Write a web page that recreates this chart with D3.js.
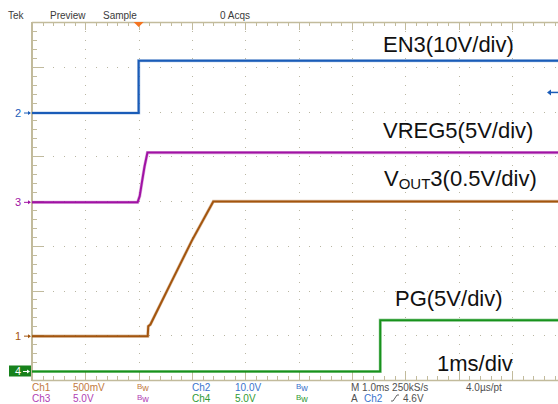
<!DOCTYPE html>
<html>
<head>
<meta charset="utf-8">
<script src="https://cdn.jsdelivr.net/npm/d3@7"></script>
<style>
  html, body { margin: 0; padding: 0; background: #fff; }
  svg { display: block; font-family: "Liberation Sans", Arial, sans-serif; }
</style>
</head>
<body>
<svg id="scope" width="558" height="404"></svg>
<script>
// Time base: 1 ms/div, 10 divisions, trigger 2 divisions from the left edge
const timeDomain = [-2, 8];          // ms
const divDomain = [-4, 4];           // vertical divisions

// Channel setup: volts per division and ground-reference offset (divisions)
const channels = [
  { id: 1, name: "VOUT3", vdiv: 0.5, ground: -3.02, color: "#a3550e" },
  { id: 2, name: "EN3",   vdiv: 10,  ground: 1.966, color: "#1a5cb8" },
  { id: 3, name: "VREG5", vdiv: 5,   ground: -0.03, color: "#a012a4" },
  { id: 4, name: "PG",    vdiv: 5,   ground: -3.81, color: "#17921c" }
];

// Captured waveforms (time in ms, voltage in V)
const en3Time   = [-2, 0, 0, 8];
const en3Volt   = [0, 0, 11.7, 11.7];

const vreg5Time = [-2, -0.02, 0.02, 0.06, 0.11, 0.165, 8];
const vreg5Volt = [0, 0, 0.7, 2.2, 4.0, 5.56, 5.56];

const vout3Time = [-2, 0.17, 0.18, 0.22, 0.6, 1.0, 1.4, 8];
const vout3Volt = [0, 0, 0.11, 0.13, 0.59, 1.07, 1.505, 1.505];

const pgTime    = [-2, 4.53, 4.53, 8];
const pgVolt    = [0, 0, 5.73, 5.73];

const traceData = [
  { ch: 2, t: en3Time,   v: en3Volt },
  { ch: 3, t: vreg5Time, v: vreg5Volt },
  { ch: 1, t: vout3Time, v: vout3Volt },
  { ch: 4, t: pgTime,    v: pgVolt }
];

const triggerLevel = 4.6; // V on Ch2

const svg = d3.select("#scope");
const leftX = 32, topY = 22, bottomY = 380;
const W = 558;
const x = d3.scaleLinear().domain(timeDomain).range([leftX, leftX + 533.3]);
const y = d3.scaleLinear().domain(divDomain).range([bottomY, topY]);
const divW = x(1) - x(0), divH = y(0) - y(1);

const chById = id => channels.find(c => c.id === id);
const yVolt = (ch, v) => y(ch.ground + v / ch.vdiv);

// ---- graticule: dotted division lines ----
const grid = svg.append("g").attr("fill", "#b9b6a2");
for (let i = 1; i < 10; i++) {
  const gx = x(timeDomain[0] + i);
  for (let k = 0; k <= 40; k++) {
    const gy = topY + k * divH / 5;
    grid.append("rect").attr("x", Math.round(gx)).attr("y", Math.round(gy)).attr("width", 1).attr("height", 1);
  }
}
for (let j = 1; j < 8; j++) {
  const gy = y(divDomain[0] + j);
  for (let k = 0; k <= 50; k++) {
    const gx = leftX + k * divW / 5;
    if (gx > W) break;
    grid.append("rect").attr("x", Math.round(gx)).attr("y", Math.round(gy)).attr("width", 1).attr("height", 1);
  }
}

// ---- graticule frame with ticks ----
const frame = svg.append("g").attr("stroke", "#c2bb9c").attr("fill", "none");
frame.append("line").attr("x1", leftX).attr("x2", W).attr("y1", topY + 0.5).attr("y2", topY + 0.5).attr("stroke-width", 1.5);
frame.append("line").attr("x1", leftX).attr("x2", W).attr("y1", bottomY + 0.5).attr("y2", bottomY + 0.5).attr("stroke-width", 1.5);
frame.append("line").attr("x1", leftX).attr("x2", leftX).attr("y1", topY).attr("y2", bottomY + 1).attr("stroke-width", 2);
for (let k = 0; k <= 50; k++) {
  const tx = Math.round(leftX + k * divW / 5) + 0.5;
  if (tx > W) break;
  const major = k % 5 === 0;
  frame.append("line").attr("x1", tx).attr("x2", tx).attr("y1", topY).attr("y2", topY + (major ? 8 : 4));
  frame.append("line").attr("x1", tx).attr("x2", tx).attr("y1", bottomY).attr("y2", bottomY - (major ? 9 : 4));
}
for (let k = 0; k <= 40; k++) {
  const ty = Math.round(topY + k * divH / 5) + 0.5;
  const major = k % 5 === 0;
  frame.append("line").attr("x1", leftX).attr("x2", leftX + (major ? 11 : 5)).attr("y1", ty).attr("y2", ty);
}

// ---- waveforms ----
const line = d3.line();
traceData.forEach(td => {
  const ch = chById(td.ch);
  const pts = td.t.map((t, i) => [x(t), yVolt(ch, td.v[i])]);
  svg.append("path").attr("d", line(pts)).attr("fill", "none")
    .attr("stroke", ch.color).attr("stroke-opacity", 0.35).attr("stroke-width", 3.2);
  svg.append("path").attr("d", line(pts)).attr("fill", "none")
    .attr("stroke", ch.color).attr("stroke-width", 2);
});

// ---- ground reference markers on the left ----
[2, 3, 1].forEach(id => {
  const ch = chById(id);
  const gy = y(ch.ground);
  svg.append("text").attr("x", 18).attr("y", gy + 4).attr("text-anchor", "middle")
    .attr("font-size", 11).attr("fill", ch.color).text(id);
  svg.append("line").attr("x1", 24).attr("x2", 30).attr("y1", gy).attr("y2", gy)
    .attr("stroke", ch.color).attr("stroke-width", 1);
  svg.append("path").attr("d", `M${31},${gy} l-3,-2 v4 z`).attr("fill", ch.color);
});
{
  const ch = chById(4);
  const gy = y(ch.ground);
  svg.append("rect").attr("x", 9).attr("y", gy - 6).attr("width", 22).attr("height", 11).attr("fill", "#17821c");
  svg.append("text").attr("x", 18).attr("y", gy + 4).attr("text-anchor", "middle")
    .attr("font-size", 11).attr("fill", "#fff").text(4);
  svg.append("line").attr("x1", 23).attr("x2", 29).attr("y1", gy).attr("y2", gy).attr("stroke", "#fff");
  svg.append("path").attr("d", `M${30},${gy} l-3,-2 v4 z`).attr("fill", "#fff");
}

// ---- trigger position and level markers ----
svg.append("path").attr("d", `M${x(0) - 5},${topY} h10 l-5,5 z`).attr("fill", "#f47420");
{
  const ty = yVolt(chById(2), triggerLevel);
  svg.append("line").attr("x1", 550).attr("x2", W).attr("y1", ty).attr("y2", ty).attr("stroke", "#1a5cb8").attr("stroke-width", 1.5);
  svg.append("path").attr("d", `M${547},${ty} l4,-3 v6 z`).attr("fill", "#1a5cb8");
}

// ---- header ----
const head = svg.append("g").attr("font-size", 10).attr("fill", "#3a3a3a");
head.append("text").attr("x", 8).attr("y", 19).text("Tek");
head.append("text").attr("x", 50).attr("y", 19).text("Preview");
head.append("text").attr("x", 103).attr("y", 19).text("Sample");
head.append("text").attr("x", 220).attr("y", 19).text("0 Acqs");

// ---- signal annotations ----
const ann = svg.append("g").attr("font-size", 22).attr("fill", "#111");
ann.append("text").attr("x", 383).attr("y", 52).text("EN3(10V/div)");
ann.append("text").attr("x", 383).attr("y", 138).text("VREG5(5V/div)");
{
  const t = ann.append("text").attr("x", 384).attr("y", 186);
  t.append("tspan").text("V");
  t.append("tspan").attr("font-size", 15).attr("dy", 3).text("OUT");
  t.append("tspan").attr("dy", -3).text("3(0.5V/div)");
}
ann.append("text").attr("x", 395).attr("y", 306).text("PG(5V/div)");
ann.append("text").attr("x", 437).attr("y", 371).text("1ms/div");

// ---- readout ----
const ro = svg.append("g").attr("font-size", 10);
const r1 = 391, r2 = 402;
const bw = (gx, gy, col) => {
  const t = ro.append("text").attr("x", gx).attr("y", gy).attr("fill", col);
  t.append("tspan").attr("font-size", 8).attr("dy", -2).text("B");
  t.append("tspan").attr("font-size", 9).attr("dy", 2).text("w");
};
ro.append("text").attr("x", 32).attr("y", r1).attr("fill", "#c27a3e").text("Ch1");
ro.append("text").attr("x", 73).attr("y", r1).attr("fill", "#c27a3e").text("500mV");
bw(137, r1, "#c27a3e");
ro.append("text").attr("x", 192).attr("y", r1).attr("fill", "#3a74cc").text("Ch2");
ro.append("text").attr("x", 235).attr("y", r1).attr("fill", "#3a74cc").text("10.0V");
bw(296, r1, "#3a74cc");
ro.append("text").attr("x", 351).attr("y", r1).attr("fill", "#505050").text("M 1.0ms 250kS/s");
ro.append("text").attr("x", 466).attr("y", r1).attr("fill", "#505050").text("4.0µs/pt");

ro.append("text").attr("x", 32).attr("y", r2).attr("fill", "#b040b4").text("Ch3");
ro.append("text").attr("x", 73).attr("y", r2).attr("fill", "#b040b4").text("5.0V");
bw(137, r2, "#b040b4");
ro.append("text").attr("x", 192).attr("y", r2).attr("fill", "#2f9a34").text("Ch4");
ro.append("text").attr("x", 235).attr("y", r2).attr("fill", "#2f9a34").text("5.0V");
bw(296, r2, "#2f9a34");
ro.append("text").attr("x", 351).attr("y", r2).attr("fill", "#505050").text("A");
ro.append("text").attr("x", 364).attr("y", r2).attr("fill", "#3a74cc").text("Ch2");
ro.append("path").attr("d", `M391,${r2 - 1} h2 l4,-6 h2`).attr("fill", "none").attr("stroke", "#505050").attr("stroke-width", 0.9);
ro.append("text").attr("x", 403).attr("y", r2).attr("fill", "#505050").text("4.6V");
</script>
</body>
</html>
